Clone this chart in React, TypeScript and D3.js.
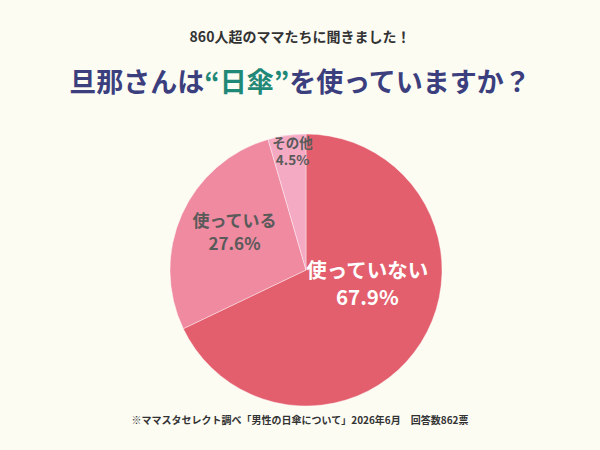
import * as d3 from "d3";

const categories = ["使っていない", "使っている", "その他"];
const values = [67.9, 27.6, 4.5];
const sliceColors = ["#e35f6d", "#ef8aa0", "#f5aac4"];
const labelColors = ["#ffffff", "#5a5a5a", "#5a5a5a"];

const WIDTH = 600;
const HEIGHT = 450;
const CX = 306;
const CY = 270;
const RADIUS = 136;
const FONT = "'Noto Sans CJK JP', 'Noto Sans', sans-serif";

// label placement per slice: radius factor, nudge, font size, line gap
const labelRadius = [0.42, 0.6, 0.86];
const labelNudge = [
  [13, -16],
  [3, -4],
  [3, -3],
];
const labelSize = [20.5, 17, 13.5];
const lineGap = [27, 23, 17];

const App = () => {
  const pie = d3
    .pie<number>()
    .sort(null)
    .value((d) => d);
  const arcs = pie(values);
  const arcGen = d3.arc<d3.PieArcDatum<number>>().innerRadius(0).outerRadius(RADIUS);

  return (
    <svg
      width={WIDTH}
      height={HEIGHT}
      style={{ position: "absolute", left: 0, top: 0, background: "#fcfcf3" }}
      fontFamily={FONT}
    >
      <rect width={WIDTH} height={HEIGHT} fill="#fcfcf3" />
      <text x={WIDTH / 2} y={42} textAnchor="middle" fontSize={14} fontWeight="bold" fill="#333">
        860人超のママたちに聞きました！
      </text>
      <text x={WIDTH / 2} y={92} textAnchor="middle" fontSize={27} fontWeight="bold" fill="#3c3f7e">
        旦那さんは<tspan fill="#1f8877">“日傘”</tspan>を使っていますか？
      </text>

      <g transform={`translate(${CX},${CY})`}>
        {arcs.map((a, i) => (
          <path key={i} d={arcGen(a)!} fill={sliceColors[i]} stroke="#fff" strokeWidth={0.8} strokeOpacity={0.5} />
        ))}
        {arcs.map((a, i) => {
          const mid = (a.startAngle + a.endAngle) / 2;
          const r = RADIUS * labelRadius[i];
          const x = Math.sin(mid) * r + labelNudge[i][0];
          const y = -Math.cos(mid) * r + labelNudge[i][1];
          const fs = labelSize[i];
          const gap = lineGap[i];
          return (
            <g key={i} fill={labelColors[i]} fontWeight="bold" textAnchor="middle" fontSize={fs}>
              <text x={x} y={y - gap / 2 + fs * 0.36}>
                {categories[i]}
              </text>
              <text x={x} y={y + gap / 2 + fs * 0.36}>
                {values[i]}%
              </text>
            </g>
          );
        })}
      </g>

      <text x={WIDTH / 2} y={424} textAnchor="middle" fontSize={10} fontWeight="bold" fill="#333">
        ※ママスタセレクト調べ「男性の日傘について」2026年6月　回答数862票
      </text>
    </svg>
  );
};

export default App;
